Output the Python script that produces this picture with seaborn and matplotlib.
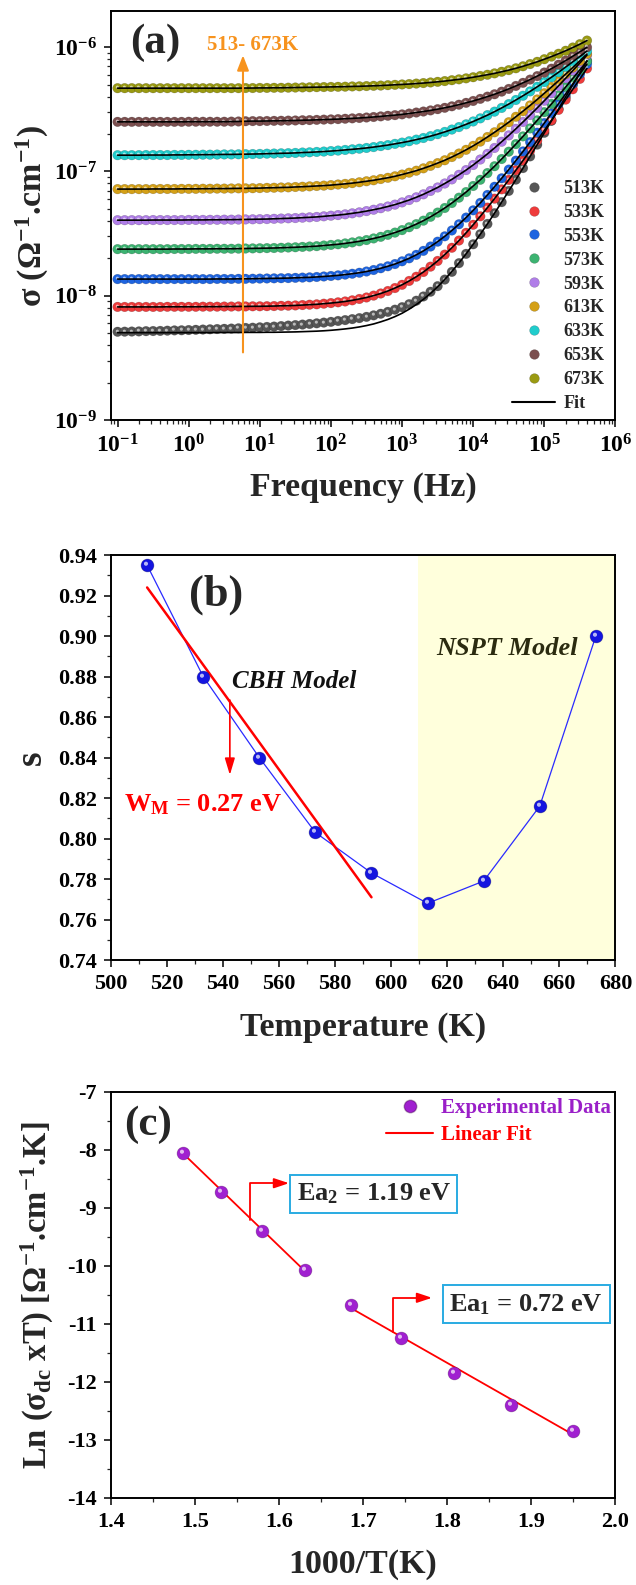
import numpy as np
import pandas as pd
import seaborn as sns
import matplotlib.pyplot as plt
from matplotlib.path import Path
from matplotlib.markers import MarkerStyle
from matplotlib.lines import Line2D
from matplotlib.ticker import (LogLocator, FixedLocator, MultipleLocator,
                               FormatStrFormatter, NullFormatter, LogFormatterSciNotation)

# ---------------- data: panel (a), log10 of frequency (Hz) and of sigma ----------------
freq_exp = [-1.0, -0.9, -0.8, -0.7, -0.6, -0.5, -0.4, -0.3, -0.2, -0.1,
            0.0, 0.1, 0.2, 0.3, 0.4, 0.5, 0.6, 0.7, 0.8, 0.9,
            1.0, 1.1, 1.2, 1.3, 1.4, 1.5, 1.6, 1.7, 1.8, 1.9,
            2.0, 2.1, 2.2, 2.3, 2.4, 2.5, 2.6, 2.7, 2.8, 2.9,
            3.0, 3.1, 3.2, 3.3, 3.4, 3.5, 3.6, 3.7, 3.8, 3.9,
            4.0, 4.1, 4.2, 4.3, 4.4, 4.5, 4.6, 4.7, 4.8, 4.9,
            5.0, 5.1, 5.2, 5.3, 5.4, 5.5, 5.6]

temps = ['513K', '533K', '553K', '573K', '593K', '613K', '633K', '653K', '673K']
colors = ['#565656', '#ee3b3b', '#1e64e0', '#3cb371', '#b07ee8',
          '#d4a017', '#20cccc', '#7b4f4f', '#9a9a12']

s513 = [-8.290, -8.289, -8.288, -8.287, -8.285, -8.284, -8.283, -8.281, -8.279, -8.278,
        -8.276, -8.274, -8.272, -8.270, -8.268, -8.266, -8.264, -8.262, -8.259, -8.257,
        -8.254, -8.251, -8.248, -8.244, -8.240, -8.236, -8.232, -8.227, -8.222, -8.216,
        -8.210, -8.203, -8.196, -8.188, -8.180, -8.170, -8.158, -8.145, -8.130, -8.112,
        -8.092, -8.068, -8.040, -8.006, -7.968, -7.923, -7.870, -7.808, -7.738, -7.663,
        -7.586, -7.505, -7.422, -7.336, -7.247, -7.157, -7.066, -6.973, -6.879, -6.784,
        -6.689, -6.593, -6.497, -6.400, -6.303, -6.206, -6.109]
s513_fit = [-8.297, -8.297, -8.297, -8.297, -8.297, -8.297, -8.297, -8.297, -8.297, -8.297,
            -8.297, -8.297, -8.297, -8.297, -8.296, -8.296, -8.296, -8.296, -8.295, -8.295,
            -8.295, -8.294, -8.294, -8.293, -8.292, -8.291, -8.289, -8.287, -8.285, -8.282,
            -8.278, -8.273, -8.267, -8.260, -8.251, -8.240, -8.227, -8.210, -8.191, -8.168,
            -8.141, -8.108, -8.071, -8.029, -7.981, -7.928, -7.869, -7.805, -7.736, -7.663,
            -7.586, -7.505, -7.422, -7.336, -7.247, -7.157, -7.066, -6.973, -6.879, -6.784,
            -6.689, -6.593, -6.497, -6.400, -6.303, -6.206, -6.109]
s533 = [-8.090, -8.090, -8.090, -8.090, -8.090, -8.090, -8.090, -8.089, -8.089, -8.089,
        -8.089, -8.089, -8.088, -8.088, -8.088, -8.087, -8.087, -8.086, -8.086, -8.085,
        -8.085, -8.084, -8.083, -8.081, -8.080, -8.078, -8.075, -8.072, -8.069, -8.064,
        -8.059, -8.053, -8.046, -8.037, -8.026, -8.014, -7.999, -7.982, -7.962, -7.938,
        -7.912, -7.881, -7.847, -7.809, -7.766, -7.720, -7.669, -7.614, -7.556, -7.494,
        -7.429, -7.361, -7.291, -7.219, -7.144, -7.068, -6.990, -6.912, -6.832, -6.751,
        -6.670, -6.588, -6.505, -6.422, -6.339, -6.255, -6.171]
s553 = [-7.866, -7.866, -7.866, -7.866, -7.866, -7.866, -7.866, -7.866, -7.866, -7.866,
        -7.866, -7.866, -7.866, -7.866, -7.865, -7.865, -7.865, -7.864, -7.864, -7.863,
        -7.862, -7.861, -7.860, -7.859, -7.858, -7.856, -7.854, -7.852, -7.849, -7.845,
        -7.841, -7.836, -7.830, -7.823, -7.815, -7.805, -7.793, -7.779, -7.763, -7.745,
        -7.723, -7.699, -7.671, -7.639, -7.604, -7.565, -7.522, -7.475, -7.425, -7.371,
        -7.313, -7.253, -7.189, -7.123, -7.055, -6.985, -6.913, -6.839, -6.764, -6.688,
        -6.611, -6.533, -6.455, -6.376, -6.296, -6.216, -6.136]
s573 = [-7.625, -7.625, -7.625, -7.625, -7.625, -7.625, -7.625, -7.625, -7.624, -7.624,
        -7.624, -7.623, -7.623, -7.623, -7.622, -7.622, -7.622, -7.621, -7.620, -7.619,
        -7.618, -7.617, -7.616, -7.614, -7.612, -7.610, -7.607, -7.604, -7.601, -7.596,
        -7.591, -7.586, -7.579, -7.571, -7.562, -7.552, -7.539, -7.526, -7.510, -7.492,
        -7.472, -7.449, -7.424, -7.396, -7.365, -7.331, -7.294, -7.254, -7.211, -7.166,
        -7.117, -7.067, -7.013, -6.958, -6.900, -6.841, -6.780, -6.718, -6.654, -6.589,
        -6.523, -6.457, -6.389, -6.321, -6.252, -6.183, -6.113]
s593 = [-7.392, -7.392, -7.392, -7.392, -7.392, -7.391, -7.391, -7.391, -7.391, -7.391,
        -7.390, -7.390, -7.390, -7.389, -7.389, -7.388, -7.388, -7.387, -7.386, -7.385,
        -7.384, -7.383, -7.381, -7.379, -7.377, -7.375, -7.372, -7.369, -7.366, -7.361,
        -7.356, -7.351, -7.345, -7.337, -7.329, -7.319, -7.308, -7.296, -7.282, -7.267,
        -7.249, -7.230, -7.208, -7.184, -7.157, -7.129, -7.097, -7.064, -7.027, -6.989,
        -6.948, -6.904, -6.859, -6.811, -6.761, -6.710, -6.657, -6.602, -6.546, -6.489,
        -6.431, -6.371, -6.311, -6.250, -6.189, -6.127, -6.064]
s613 = [-7.142, -7.142, -7.142, -7.142, -7.142, -7.141, -7.141, -7.141, -7.141, -7.140,
        -7.140, -7.140, -7.139, -7.139, -7.138, -7.138, -7.137, -7.136, -7.136, -7.135,
        -7.134, -7.132, -7.131, -7.129, -7.128, -7.125, -7.123, -7.120, -7.117, -7.114,
        -7.110, -7.105, -7.100, -7.094, -7.087, -7.079, -7.071, -7.061, -7.051, -7.039,
        -7.025, -7.010, -6.994, -6.975, -6.955, -6.933, -6.910, -6.884, -6.856, -6.826,
        -6.794, -6.760, -6.723, -6.685, -6.645, -6.604, -6.560, -6.515, -6.469, -6.421,
        -6.371, -6.321, -6.270, -6.217, -6.164, -6.110, -6.055]
s633 = [-6.869, -6.869, -6.869, -6.869, -6.868, -6.868, -6.868, -6.868, -6.867, -6.867,
        -6.866, -6.866, -6.865, -6.865, -6.864, -6.863, -6.863, -6.862, -6.861, -6.860,
        -6.859, -6.857, -6.856, -6.854, -6.853, -6.851, -6.848, -6.846, -6.843, -6.840,
        -6.836, -6.832, -6.827, -6.822, -6.817, -6.811, -6.804, -6.796, -6.788, -6.778,
        -6.768, -6.757, -6.744, -6.731, -6.716, -6.700, -6.682, -6.663, -6.643, -6.621,
        -6.598, -6.573, -6.547, -6.519, -6.489, -6.458, -6.425, -6.391, -6.356, -6.319,
        -6.281, -6.242, -6.202, -6.160, -6.118, -6.075, -6.031]
s653 = [-6.601, -6.601, -6.601, -6.601, -6.601, -6.601, -6.601, -6.601, -6.601, -6.601,
        -6.600, -6.600, -6.600, -6.600, -6.600, -6.600, -6.599, -6.598, -6.596, -6.595,
        -6.595, -6.594, -6.593, -6.592, -6.591, -6.590, -6.588, -6.587, -6.585, -6.583,
        -6.581, -6.579, -6.576, -6.573, -6.570, -6.566, -6.562, -6.557, -6.552, -6.547,
        -6.541, -6.534, -6.526, -6.518, -6.509, -6.499, -6.488, -6.476, -6.463, -6.448,
        -6.433, -6.416, -6.398, -6.379, -6.358, -6.336, -6.312, -6.287, -6.261, -6.233,
        -6.204, -6.173, -6.141, -6.108, -6.073, -6.037, -6.001]
s673 = [-6.330, -6.330, -6.330, -6.330, -6.330, -6.330, -6.330, -6.330, -6.330, -6.330,
        -6.330, -6.330, -6.330, -6.330, -6.330, -6.330, -6.330, -6.330, -6.329, -6.329,
        -6.328, -6.328, -6.327, -6.327, -6.326, -6.325, -6.324, -6.323, -6.322, -6.321,
        -6.320, -6.319, -6.318, -6.316, -6.315, -6.313, -6.311, -6.309, -6.306, -6.303,
        -6.300, -6.297, -6.293, -6.289, -6.284, -6.279, -6.273, -6.266, -6.259, -6.251,
        -6.242, -6.232, -6.222, -6.211, -6.198, -6.185, -6.170, -6.154, -6.136, -6.118,
        -6.097, -6.076, -6.053, -6.029, -6.003, -5.976, -5.947]

# ---------------- data: panel (b) ----------------
temperature = [513, 533, 553, 573, 593, 613, 633, 653, 673]
s_exponent = [0.935, 0.880, 0.840, 0.803, 0.783, 0.768, 0.779, 0.816, 0.900]
cbh_T = [513, 593]
cbh_s = [0.924, 0.771]
nspt_from = 609.5

# ---------------- data: panel (c) ----------------
inv_T = [1.486, 1.531, 1.580, 1.631, 1.686, 1.745, 1.808, 1.876, 1.949]
ln_sigma_T = [-8.05, -8.72, -9.39, -10.07, -10.67, -11.25, -11.84, -12.39, -12.85]
fit2_x = [1.486, 1.631]
fit2_y = [-8.06, -10.09]
fit1_x = [1.686, 1.950]
fit1_y = [-10.73, -12.91]

# ---------------- style ----------------
sns.set_style("ticks")
plt.rcParams['font.family'] = ['Liberation Serif', 'DejaVu Serif']
plt.rcParams['font.weight'] = 'bold'
plt.rcParams['axes.labelweight'] = 'bold'
plt.rcParams['mathtext.fontset'] = 'custom'
plt.rcParams['mathtext.rm'] = 'Liberation Serif:bold'
plt.rcParams['mathtext.it'] = 'Liberation Serif:italic:bold'
plt.rcParams['mathtext.bf'] = 'Liberation Serif:bold'
plt.rcParams['mathtext.default'] = 'rm'
plt.rcParams['axes.unicode_minus'] = False

# small light spot drawn on top of each ball to fake the 3D look
spot = Path.make_compound_path(
    Path.circle(center=(-0.12, 0.14), radius=0.16),
    Path([(0.5, -0.5), (0.5, -0.5)], [Path.MOVETO, Path.LINETO]))
spot = MarkerStyle(spot)


def style_axes(ax, size):
    for sp in ax.spines.values():
        sp.set_linewidth(1.4)
        sp.set_color('black')
    ax.tick_params(which='major', direction='out', length=5, width=1.1,
                   labelsize=size, pad=5, top=False, right=False, colors='black')
    ax.tick_params(which='minor', direction='out', length=2.8, width=0.9,
                   top=False, right=False)


fig = plt.figure(figsize=(6.36, 15.85), dpi=100)
ax1 = fig.add_axes([0.174, 0.735, 0.7937, 0.258])
ax2 = fig.add_axes([0.174, 0.3943, 0.7937, 0.2555])
ax3 = fig.add_axes([0.174, 0.0549, 0.7937, 0.2562])

# ======================= (a) =======================
freq = 10 ** np.array(freq_exp)
series = [s513, s533, s553, s573, s593, s613, s633, s653, s673]
fits = [s513_fit, s533, s553, s573, s593, s613, s633, s653, s673]
df_a = pd.concat([pd.DataFrame({'freq': freq, 'sigma': 10 ** np.array(v), 'T': t})
                  for t, v in zip(temps, series)], ignore_index=True)
df_fit = pd.concat([pd.DataFrame({'freq': freq, 'sigma': 10 ** np.array(v), 'T': t})
                    for t, v in zip(temps, fits)], ignore_index=True)

ax1.set_xscale('log')
ax1.set_yscale('log')
sns.scatterplot(data=df_a, x='freq', y='sigma', hue='T', hue_order=temps,
                palette=colors, s=48, edgecolor=(0, 0, 0, 0.25), linewidth=0.4,
                legend=False, ax=ax1, zorder=2)
sns.scatterplot(data=df_a, x='freq', y='sigma', color='white', marker=spot, s=48,
                linewidth=0, alpha=0.6, legend=False, ax=ax1, zorder=3)
sns.lineplot(data=df_fit, x='freq', y='sigma', units='T', estimator=None,
             color='black', lw=1.2, legend=False, ax=ax1, zorder=4)

ax1.set_xlim(0.08, 1e6)
ax1.set_ylim(1e-9, 1.95e-6)
ax1.xaxis.set_major_locator(FixedLocator([1e-1, 1e0, 1e1, 1e2, 1e3, 1e4, 1e5, 1e6]))
ax1.xaxis.set_minor_locator(LogLocator(base=10, subs=np.arange(2, 10), numticks=20))
ax1.yaxis.set_major_locator(FixedLocator([1e-9, 1e-8, 1e-7, 1e-6]))
ax1.yaxis.set_minor_locator(LogLocator(base=10, subs=np.arange(2, 10), numticks=20))
ax1.xaxis.set_major_formatter(LogFormatterSciNotation())
ax1.yaxis.set_major_formatter(LogFormatterSciNotation())
ax1.xaxis.set_minor_formatter(NullFormatter())
ax1.yaxis.set_minor_formatter(NullFormatter())
style_axes(ax1, 17)
ax1.set_xlabel('Frequency (Hz)', fontsize=24.5)
ax1.set_ylabel('σ (Ω$^{-1}$.cm$^{-1}$)', fontsize=24.5)
ax1.xaxis.set_label_coords(0.5, -0.127)
ax1.yaxis.set_label_coords(-0.118, 0.5)

handles = [Line2D([], [], ls='', marker='o', ms=7, mfc=c, mec=(0, 0, 0, 0.25), mew=0.4)
           for c in colors]
handles.append(Line2D([], [], color='black', lw=1.5))
ax1.legend(handles, temps + ['Fit'], loc='lower right', bbox_to_anchor=(0.978, 0.02),
           frameon=False, fontsize=13, handlelength=2.4, handletextpad=0.45,
           labelspacing=0.38, borderpad=0, borderaxespad=0)

ax1.text(0.088, 0.922, '(a)', transform=ax1.transAxes, fontsize=31,
         ha='center', va='center')
ax1.text(0.19, 0.917, '513- 673K', transform=ax1.transAxes, fontsize=15,
         color='#f7931e', ha='left', va='center')
ax1.annotate('', xy=(5.8, 8.6e-7), xytext=(5.8, 3.5e-9),
             arrowprops=dict(arrowstyle='-|>,head_length=0.9,head_width=0.35',
                             color='#f7931e', lw=1.5, mutation_scale=10,
                             shrinkA=0, shrinkB=0), zorder=6)

# ======================= (b) =======================
ax2.axvspan(nspt_from, 680, color='#ffffdc', lw=0, zorder=0)
sns.lineplot(x=temperature, y=s_exponent, color='#2a2aff', lw=0.9, ax=ax2, zorder=2)
sns.lineplot(x=cbh_T, y=cbh_s, color='#ff0000', lw=1.8, ax=ax2, zorder=3)
sns.scatterplot(x=temperature, y=s_exponent, color='#1515e0', s=85,
                edgecolor=(0, 0, 0.3, 0.4), linewidth=0.5, ax=ax2, zorder=4)
sns.scatterplot(x=temperature, y=s_exponent, color='white', marker=spot, s=85,
                linewidth=0, alpha=0.7, ax=ax2, zorder=5)
ax2.set_xlim(500, 680)
ax2.set_ylim(0.74, 0.94)
ax2.xaxis.set_major_locator(MultipleLocator(20))
ax2.xaxis.set_minor_locator(MultipleLocator(10))
ax2.yaxis.set_major_locator(MultipleLocator(0.02))
ax2.yaxis.set_minor_locator(MultipleLocator(0.01))
ax2.yaxis.set_major_formatter(FormatStrFormatter('%.2f'))
style_axes(ax2, 16)
ax2.set_xlabel('Temperature (K)', fontsize=24.5)
ax2.set_ylabel('s', fontsize=27)
ax2.xaxis.set_label_coords(0.5, -0.128)
ax2.yaxis.set_label_coords(-0.122, 0.5)

ax2.text(537.6, 0.9203, '(b)', fontsize=32, ha='center', va='center')
ax2.text(543.4, 0.8743, 'CBH Model', fontsize=18, style='italic', ha='left',
         va='baseline', color='#111111')
ax2.text(616, 0.8906, 'NSPT Model', fontsize=19, style='italic', ha='left',
         va='baseline', color='#2b2b10')
ax2.text(504.8, 0.8135, 'W$_{M}$ = 0.27 eV', fontsize=19, color='#ff0000',
         ha='left', va='baseline')
ax2.annotate('', xy=(542.5, 0.8314), xytext=(542.5, 0.8684),
             arrowprops=dict(arrowstyle='-|>,head_length=1.0,head_width=0.3',
                             color='#ff0000', lw=1.2, mutation_scale=10,
                             shrinkA=0, shrinkB=0))

# ======================= (c) =======================
sns.lineplot(x=fit2_x, y=fit2_y, color='#ff0000', lw=1.3, ax=ax3, zorder=2)
sns.lineplot(x=fit1_x, y=fit1_y, color='#ff0000', lw=1.3, ax=ax3, zorder=2)
sns.scatterplot(x=inv_T, y=ln_sigma_T, color='#a020d0', s=85,
                edgecolor=(0.25, 0, 0.3, 0.4), linewidth=0.5, ax=ax3, zorder=4)
sns.scatterplot(x=inv_T, y=ln_sigma_T, color='white', marker=spot, s=85,
                linewidth=0, alpha=0.7, ax=ax3, zorder=5)
ax3.set_xlim(1.4, 2.0)
ax3.set_ylim(-14, -7)
ax3.xaxis.set_major_locator(MultipleLocator(0.1))
ax3.xaxis.set_minor_locator(MultipleLocator(0.05))
ax3.yaxis.set_major_locator(MultipleLocator(1))
ax3.yaxis.set_minor_locator(MultipleLocator(0.5))
ax3.xaxis.set_major_formatter(FormatStrFormatter('%.1f'))
style_axes(ax3, 16)
ax3.set_xlabel('1000/T(K)', fontsize=24.5)
ax3.set_ylabel('Ln (σ$_{dc}$ xT) [Ω$^{-1}$.cm$^{-1}$.K]', fontsize=23.5)
ax3.xaxis.set_label_coords(0.5, -0.126)
ax3.yaxis.set_label_coords(-0.108, 0.5)

leg_c = [Line2D([], [], ls='', marker='o', ms=9, mfc='#a020d0', mec=(0.25, 0, 0.3, 0.4)),
         Line2D([], [], color='#ff0000', lw=1.5)]
ax3.legend(leg_c, ['Experimental Data', 'Linear Fit'], loc='upper right',
           bbox_to_anchor=(0.99, 0.985), frameon=False, fontsize=15,
           labelcolor=['#9a1fc8', '#ff0000'], handlelength=2.25,
           handletextpad=0.35, labelspacing=0.35, borderpad=0, borderaxespad=0)

ax3.text(0.074, 0.918, '(c)', transform=ax3.transAxes, fontsize=31,
         ha='center', va='center')

ax3.annotate('', xy=(1.612, -8.574), xytext=(1.566, -9.20),
             arrowprops=dict(arrowstyle='-|>,head_length=0.9,head_width=0.3',
                             connectionstyle='angle,angleA=90,angleB=0,rad=0',
                             color='#ff0000', lw=1.3, mutation_scale=10,
                             shrinkA=0, shrinkB=0))
ax3.annotate('', xy=(1.782, -10.549), xytext=(1.7353, -11.147),
             arrowprops=dict(arrowstyle='-|>,head_length=0.9,head_width=0.3',
                             connectionstyle='angle,angleA=90,angleB=0,rad=0',
                             color='#ff0000', lw=1.3, mutation_scale=10,
                             shrinkA=0, shrinkB=0))
box = dict(boxstyle='square,pad=0.25', fc='white', ec='#29abe2', lw=1.4)
ax3.text(1.7127, -8.762, 'Ea$_{2}$ = 1.19 eV', fontsize=19, ha='center',
         va='center', bbox=box)
ax3.text(1.894, -10.662, 'Ea$_{1}$ = 0.72 eV', fontsize=19, ha='center',
         va='center', bbox=box)

fig.savefig('out.png', dpi=100, facecolor='white')
